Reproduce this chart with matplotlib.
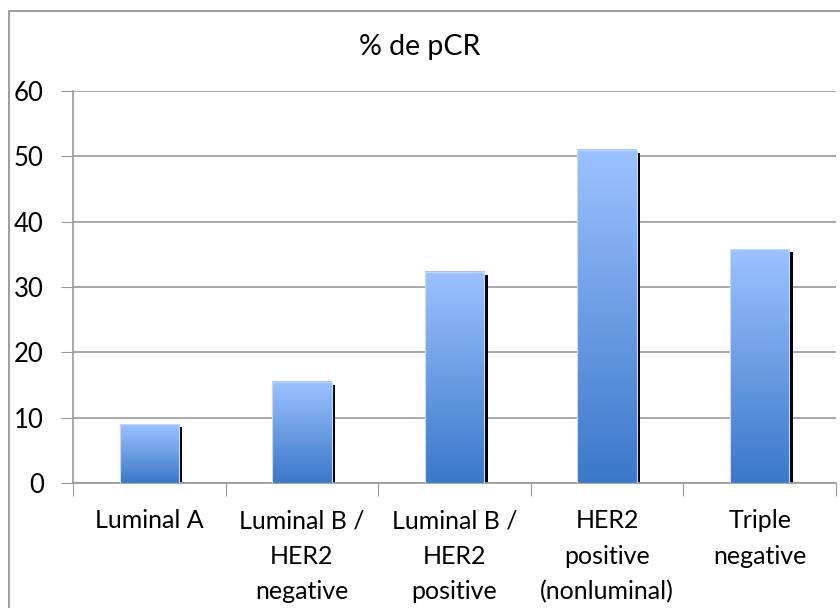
import matplotlib.pyplot as plt
import numpy as np
from matplotlib.colors import LinearSegmentedColormap
from matplotlib.patches import Rectangle

categories = ['Luminal A', 'Luminal B /\nHER2\nnegative', 'Luminal B /\nHER2\npositive',
              'HER2\npositive\n(nonluminal)', 'Triple\nnegative']
pcr = [9.0, 15.5, 32.3, 51.0, 35.8]
yticks = [0, 10, 20, 30, 40, 50, 60]

plt.rcParams['font.family'] = ['Lato', 'DejaVu Sans']

fig = plt.figure(figsize=(8.4, 6.08), dpi=100)
ax = fig.add_axes([0.0869, 0.2056, 0.9083, 0.6447])

# outer chart frame (Excel style)
fig.patches.append(Rectangle((9 / 840, -0.05), 1.0, 1 - 11 / 608 + 0.05, transform=fig.transFigure,
                             fill=False, edgecolor='#8c8c8c', linewidth=1.2))

grad = LinearSegmentedColormap.from_list('g', ['#3b78c9', '#9cc2ff'])
x = np.arange(len(categories))
width = 0.39

# black shadow on the right side of each bar
ax.bar(x + 0.022, np.array(pcr) - 0.5, width=width, color='black', zorder=2)
bars = ax.bar(x, pcr, width=width, color='none', edgecolor='#c4dafc', linewidth=0.8, zorder=4)
for b in bars:
    x0, y0 = b.get_x(), b.get_y()
    w, h = b.get_width(), b.get_height()
    g = np.linspace(0, 1, 256).reshape(-1, 1)
    ax.imshow(g, cmap=grad, origin='lower', aspect='auto',
              extent=[x0, x0 + w, y0, y0 + h], zorder=3)

ax.set_xlim(-0.5, len(categories) - 0.5)
ax.set_ylim(0, 60)
ax.set_yticks(yticks)
ax.yaxis.grid(True, color='#999999', linewidth=1.2, zorder=0)
ax.set_axisbelow(True)

ax.set_xticks(np.arange(-0.5, len(categories), 1.0))
ax.set_xticklabels([])
ax.set_xticks(x, minor=True)
ax.set_xticklabels(categories, minor=True, fontsize=18, linespacing=1.65, va='top')
ax.tick_params(axis='x', which='minor', length=0, pad=19)
ax.tick_params(axis='x', which='major', length=9, color='#999999', direction='out')
ax.tick_params(axis='y', length=9, color='#999999', labelsize=18.5, pad=12)

for s in ['top', 'right']:
    ax.spines[s].set_visible(False)
for s in ['left', 'bottom']:
    ax.spines[s].set_color('#999999')
    ax.spines[s].set_linewidth(1.2)

fig.text(0.5, 1 - 47 / 608, '% de pCR', ha='center', va='center', fontsize=20.5)

fig.savefig('out.png', dpi=100)
